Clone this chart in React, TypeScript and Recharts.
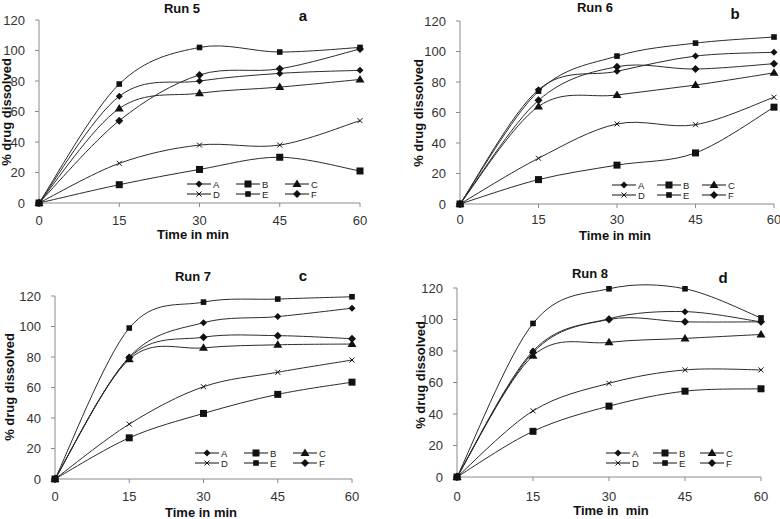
import React from 'react';
import { LineChart, Line, XAxis, YAxis, Legend, Customized } from 'recharts';

const TIME_MIN = [0, 15, 30, 45, 60];
const SERIES_KEYS = ['A', 'B', 'C', 'D', 'E', 'F'];
const LEGEND_ROWS = [
  ['A', 'B', 'C'],
  ['D', 'E', 'F'],
];
const Y_TICKS = [0, 20, 40, 60, 80, 100, 120];

// Run 5 (% drug dissolved)
const run5A = [0, 70, 80, 85, 87];
const run5B = [0, 12, 22, 30, 21];
const run5C = [0, 62, 72, 76, 81];
const run5D = [0, 26, 38, 38, 54];
const run5E = [0, 78, 102, 99, 102];
const run5F = [0, 54, 84, 88, 101];

// Run 6
const run6A = [0, 75, 87, 97, 99.5];
const run6B = [0, 16, 25.5, 33.5, 63.5];
const run6C = [0, 64, 71.5, 78, 86];
const run6D = [0, 30, 52.5, 52, 70];
const run6E = [0, 74, 97, 105.5, 109.5];
const run6F = [0, 68, 90, 88.5, 92];

// Run 7
const run7A = [0, 80, 102.5, 106.5, 112];
const run7B = [0, 27, 43, 55.5, 63.5];
const run7C = [0, 78.5, 86, 88, 88.5];
const run7D = [0, 36, 60.5, 70, 78];
const run7E = [0, 99, 116, 118, 119.5];
const run7F = [0, 79.5, 93, 94, 92];

// Run 8
const run8A = [0, 80, 100.5, 105, 98.5];
const run8B = [0, 29, 45, 54.5, 56];
const run8C = [0, 77, 85.5, 88, 90.5];
const run8D = [0, 42, 59.5, 68, 68];
const run8E = [0, 97.5, 119.5, 119.5, 101];
const run8F = [0, 79, 100, 98.5, 98.5];

const buildRows = (series: number[][]) =>
  TIME_MIN.map((t, i) => {
    const row: Record<string, number> = { t };
    SERIES_KEYS.forEach((k, j) => {
      row[k] = series[j][i];
    });
    return row;
  });

const INK = '#111';
const LINE = '#2b2b2b';
const AXIS = '#8a8a8a';
const FONT = '"Liberation Sans", Arial, sans-serif';

// Excel-like smoothed line (Catmull-Rom through the points)
function excelSmooth(context: any) {
  let pts: number[][] = [];
  return {
    areaStart() {},
    areaEnd() {},
    lineStart() {
      pts = [];
    },
    point(x: number, y: number) {
      pts.push([+x, +y]);
    },
    lineEnd() {
      const n = pts.length;
      if (!n) return;
      context.moveTo(pts[0][0], pts[0][1]);
      for (let i = 0; i < n - 1; i++) {
        const p0 = pts[Math.max(0, i - 1)];
        const p1 = pts[i];
        const p2 = pts[i + 1];
        const p3 = pts[Math.min(n - 1, i + 2)];
        context.bezierCurveTo(
          p1[0] + (p2[0] - p0[0]) / 6,
          p1[1] + (p2[1] - p0[1]) / 6,
          p2[0] - (p3[0] - p1[0]) / 6,
          p2[1] - (p3[1] - p1[1]) / 6,
          p2[0],
          p2[1]
        );
      }
    },
  };
}

function Marker({ kind, cx, cy }: { kind: string; cx: number; cy: number }) {
  if (cx == null || cy == null) return null;
  switch (kind) {
    case 'A':
      return <path d={`M${cx},${cy - 3.5}L${cx + 3.5},${cy}L${cx},${cy + 3.5}L${cx - 3.5},${cy}Z`} fill={INK} />;
    case 'B':
      return <rect x={cx - 3.5} y={cy - 3.5} width={7} height={7} fill={INK} />;
    case 'C':
      return <path d={`M${cx},${cy - 4.5}L${cx + 4.5},${cy + 3}L${cx - 4.5},${cy + 3}Z`} fill={INK} />;
    case 'D':
      return (
        <path
          d={`M${cx - 2.5},${cy - 2.5}L${cx + 2.5},${cy + 2.5}M${cx - 2.5},${cy + 2.5}L${cx + 2.5},${cy - 2.5}`}
          stroke={INK}
          strokeWidth={1}
          fill="none"
        />
      );
    case 'E':
      return <rect x={cx - 2.8} y={cy - 2.8} width={5.6} height={5.6} fill={INK} />;
    default:
      return <path d={`M${cx},${cy - 4}L${cx + 4},${cy}L${cx},${cy + 4}L${cx - 4},${cy}Z`} fill={INK} />;
  }
}

interface PanelProps {
  rows: Record<string, number>[];
  title: string;
  letter: string;
  xLabel: string;
  left: number;
  top: number;
  height: number;
  plot: { l: number; r: number; t: number; b: number };
  tickGap: number;
  titlePos: [number, number];
  letterPos: [number, number];
  yLabelPos: [number, number];
  xLabelPos: [number, number];
  legendPos: [number, number];
  legendStep: number;
}

function LegendBox({ step }: { step: number }) {
  return (
    <svg width={step * 3} height={22} style={{ display: 'block', overflow: 'visible' }}>
      {LEGEND_ROWS.map((row, ri) =>
        row.map((k, ci) => {
          const x = ci * step;
          const y = 5 + ri * 10;
          return (
            <g key={k}>
              <line x1={x} x2={x + 24} y1={y} y2={y} stroke={INK} strokeWidth={1} />
              <Marker kind={k} cx={x + 12} cy={y} />
              <text x={x + 26} y={y + 3.5} fontSize={9.5} fill="#222" fontFamily={FONT}>
                {k}
              </text>
            </g>
          );
        })
      )}
    </svg>
  );
}

function Panel(p: PanelProps) {
  const yAxisWidth = 30;
  const xAxisHeight = 30;
  const margin = {
    top: p.plot.t,
    right: 390 - p.plot.r,
    left: p.plot.l - yAxisWidth,
    bottom: p.height - p.plot.b - xAxisHeight,
  };
  const tickStyle = { fontSize: 13, fill: '#333', fontFamily: FONT };
  const bold = { fontFamily: FONT, fontWeight: 700, fill: INK } as const;
  return (
    <div style={{ position: 'absolute', left: p.left, top: p.top }}>
      <LineChart width={390} height={p.height} data={p.rows} margin={margin}>
        <XAxis
          dataKey="t"
          type="number"
          domain={[0, 60]}
          ticks={TIME_MIN}
          height={xAxisHeight}
          stroke={AXIS}
          tickSize={4}
          tickMargin={p.tickGap}
          tick={tickStyle}
          interval={0}
        />
        <YAxis
          type="number"
          domain={[0, 120]}
          ticks={Y_TICKS}
          width={yAxisWidth}
          stroke={AXIS}
          tickSize={4}
          tickMargin={10}
          tick={tickStyle}
          interval={0}
        />
        {SERIES_KEYS.map((k) => (
          <Line
            key={k}
            dataKey={k}
            name={k}
            type={excelSmooth as any}
            stroke={LINE}
            strokeWidth={1}
            isAnimationActive={false}
            dot={(d: any) => <Marker key={`${k}-${d.index}`} kind={k} cx={d.cx} cy={d.cy} />}
            activeDot={false}
          />
        ))}
        <Legend
          layout="vertical"
          align="center"
          verticalAlign="middle"
          wrapperStyle={{ left: p.legendPos[0], top: p.legendPos[1], width: 'auto' }}
          content={() => <LegendBox step={p.legendStep} />}
        />
        <Customized
          component={() => (
            <g>
              <text x={p.titlePos[0]} y={p.titlePos[1]} textAnchor="middle" fontSize={13} {...bold}>
                {p.title}
              </text>
              <text x={p.letterPos[0]} y={p.letterPos[1]} textAnchor="middle" fontSize={15} {...bold}>
                {p.letter}
              </text>
              <text
                x={p.yLabelPos[0]}
                y={p.yLabelPos[1]}
                textAnchor="middle"
                dominantBaseline="central"
                fontSize={13}
                transform={`rotate(-90 ${p.yLabelPos[0]} ${p.yLabelPos[1]})`}
                {...bold}
              >
                % drug dissolved
              </text>
              <text
                x={p.xLabelPos[0]}
                y={p.xLabelPos[1]}
                textAnchor="middle"
                fontSize={13}
                style={{ whiteSpace: 'pre' }}
                {...bold}
              >
                {p.xLabel}
              </text>
            </g>
          )}
        />
      </LineChart>
    </div>
  );
}

export default function App() {
  return (
    <div
      style={{
        position: 'absolute',
        left: 0,
        top: 0,
        width: 780,
        height: 519,
        background: '#fff',
        overflow: 'hidden',
        fontFamily: FONT,
      }}
    >
      <Panel
        rows={buildRows([run5A, run5B, run5C, run5D, run5E, run5F])}
        title="Run 5"
        letter="a"
        xLabel="Time in min"
        left={0}
        top={0}
        height={260}
        plot={{ l: 39, r: 360, t: 20, b: 203 }}
        tickGap={9}
        titlePos={[182, 13]}
        letterPos={[303, 21]}
        yLabelPos={[6, 112]}
        xLabelPos={[193, 239]}
        legendPos={[187, 179]}
        legendStep={49}
      />
      <Panel
        rows={buildRows([run6A, run6B, run6C, run6D, run6E, run6F])}
        title="Run 6"
        letter="b"
        xLabel="Time in min"
        left={390}
        top={0}
        height={260}
        plot={{ l: 70, r: 384, t: 21, b: 204 }}
        tickGap={7}
        titlePos={[205, 12]}
        letterPos={[345, 19]}
        yLabelPos={[28, 113]}
        xLabelPos={[225, 240]}
        legendPos={[222, 180]}
        legendStep={45}
      />
      <Panel
        rows={buildRows([run7A, run7B, run7C, run7D, run7E, run7F])}
        title="Run 7"
        letter="c"
        xLabel="Time in min"
        left={0}
        top={260}
        height={259}
        plot={{ l: 55, r: 352, t: 36, b: 219 }}
        tickGap={9}
        titlePos={[193, 21]}
        letterPos={[303, 21]}
        yLabelPos={[9, 127]}
        xLabelPos={[201, 257]}
        legendPos={[195, 188]}
        legendStep={49}
      />
      <Panel
        rows={buildRows([run8A, run8B, run8C, run8D, run8E, run8F])}
        title="Run 8"
        letter="d"
        xLabel={'Time in  min'}
        left={390}
        top={260}
        height={259}
        plot={{ l: 67, r: 371, t: 28, b: 217 }}
        tickGap={11}
        titlePos={[200, 18]}
        letterPos={[333, 23]}
        yLabelPos={[30, 115]}
        xLabelPos={[221, 255]}
        legendPos={[216, 188]}
        legendStep={47}
      />
    </div>
  );
}
